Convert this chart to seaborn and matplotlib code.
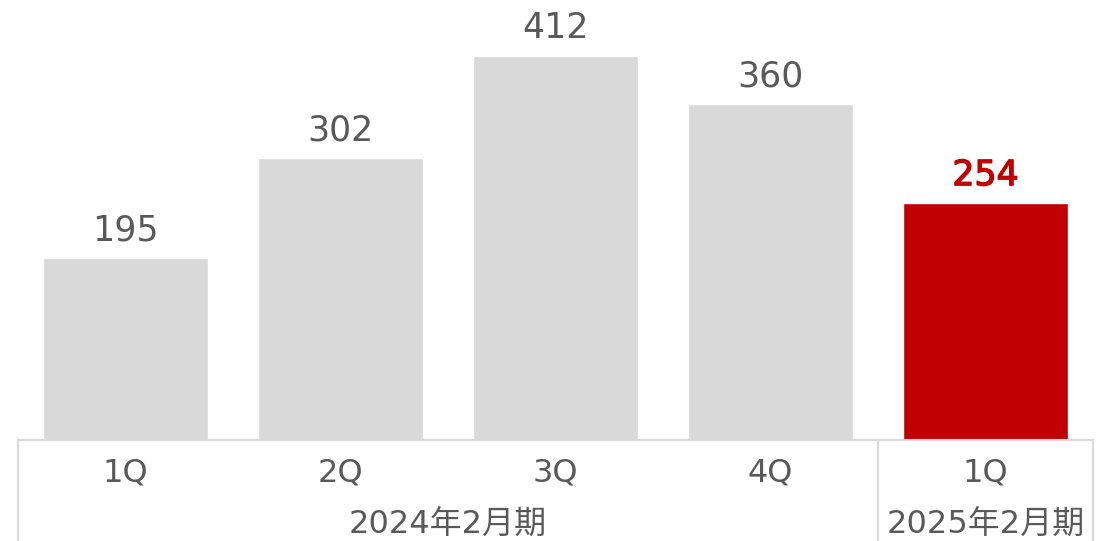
import matplotlib
matplotlib.use("Agg")
import matplotlib.pyplot as plt
import matplotlib.transforms as mtransforms
import matplotlib.patheffects as pe
import seaborn as sns
import pandas as pd

quarters = ["1Q", "2Q", "3Q", "4Q", "1Q"]
values = [195, 302, 412, 360, 254]
bar_colors = ["#D9D9D9", "#D9D9D9", "#D9D9D9", "#D9D9D9", "#C00000"]
label_colors = ["#595959", "#595959", "#595959", "#595959", "#C00000"]
group_labels = ["2024年2月期", "2025年2月期"]

sns.set_style("white")
plt.rcParams["font.family"] = ["DejaVu Sans", "Noto Sans CJK JP"]

df = pd.DataFrame({"pos": [str(i) for i in range(len(values))], "value": values})

fig = plt.figure(figsize=(11.15, 5.41), dpi=100)
W, H = 1115, 541
ax = fig.add_axes([18 / W, 101 / H, 1075 / W, 440 / H])

sns.barplot(data=df, x="pos", y="value", hue="pos", palette=bar_colors,
            legend=False, width=0.772, saturation=1, ax=ax)

ax.set_xlim(-0.5, 4.5)
ax.set_ylim(0, 472)
ax.set_xticks([])
ax.set_yticks([])
ax.set_xlabel("")
ax.set_ylabel("")
for s in ["top", "left", "right"]:
    ax.spines[s].set_visible(False)
ax.spines["bottom"].set_color("#D9D9D9")
ax.spines["bottom"].set_linewidth(1.5)

for i, v in enumerate(values):
    last = i == len(values) - 1
    t = ax.annotate(str(v), xy=(i, v), xytext=(0, 13), textcoords="offset points",
                    ha="center", va="baseline", fontsize=25,
                    color=label_colors[i])
    if last:
        t.set_path_effects([pe.withStroke(linewidth=1.0, foreground=label_colors[i])])

trans = mtransforms.blended_transform_factory(ax.transData, ax.transAxes)
ybot = -101 / 440
for x in [-0.5, 3.5, 4.5]:
    ax.plot([x, x], [0, ybot], transform=trans, color="#D9D9D9", lw=1.5,
            clip_on=False)

for i, q in enumerate(quarters):
    ax.text(i, -33 / 440, q, transform=trans, ha="center", va="center",
            fontsize=23, color="#595959")

ax.text(1.5, -85 / 440, group_labels[0], transform=trans, ha="center", va="center",
        fontsize=23, color="#595959")
ax.text(4.0, -85 / 440, group_labels[1], transform=trans, ha="center", va="center",
        fontsize=23, color="#595959")

fig.savefig("out.png", dpi=100)
